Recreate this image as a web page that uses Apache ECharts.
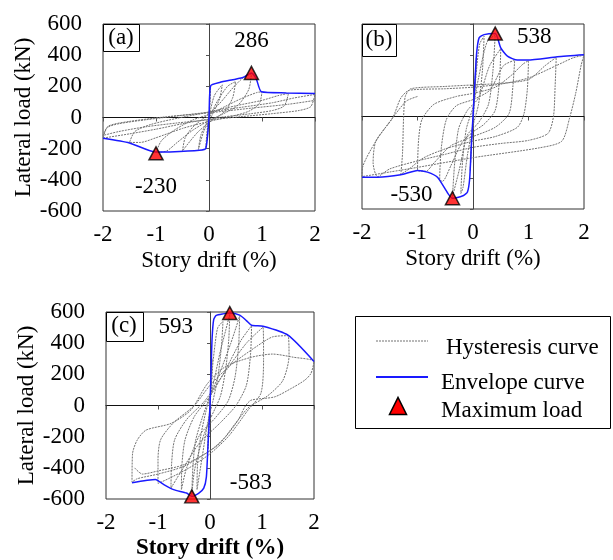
<!DOCTYPE html>
<html><head><meta charset="utf-8">
<script src="https://cdn.jsdelivr.net/npm/echarts@6/dist/echarts.min.js"></script>
<style>html,body{margin:0;padding:0;background:#fff}#chart{width:613px;height:560px}</style>
</head><body><div id="chart"></div>
<script>
// ---------- data ----------
const driftTicks = [-2, -1, 0, 1, 2];
const loadTicks = [-600, -400, -200, 0, 200, 400, 600];
const panelNames = ['(a)', '(b)', '(c)'];
const xAxisTitle = 'Story drift (%)';
const yAxisTitle = 'Lateral load (kN)';
const legendNames = ['Hysteresis curve', 'Envelope curve', 'Maximum load'];

const hysteresisA = [
  [0,0],[0.02,150],[0.03,200],[0.02,100],[0,0],[-0.03,-120],[-0.06,-195],[-0.04,-100],[0,0],
  [0.1,140],[0.25,210],[0.2,120],[0.05,10],[-0.1,-90],[-0.2,-205],[-0.15,-110],[0,-5],[0.15,100],
  [0.35,200],[0.5,230],[0.45,130],[0.3,40],[0.05,-20],[-0.2,-90],[-0.4,-170],[-0.5,-215],[-0.45,-130],[-0.3,-60],[-0.05,10],[0.2,90],[0.45,190],[0.65,257],
  [0.8,280],[0.75,180],[0.55,80],[0.25,20],[0,-20],[-0.3,-80],[-0.6,-160],[-0.8,-215],[-1.0,-225],[-0.9,-150],[-0.65,-80],[-0.3,-15],[0,20],[0.3,70],[0.6,120],[0.9,160],[1.0,165],
  [0.95,90],[0.75,40],[0.4,5],[0,-25],[-0.5,-70],[-1.0,-130],[-1.3,-160],[-1.5,-160],[-1.4,-90],[-1.1,-45],[-0.6,-5],[0,35],[0.5,75],[1.0,110],[1.3,140],[1.5,155],
  [1.42,75],[1.2,45],[0.8,25],[0.3,5],[0,-10],[-0.5,-40],[-1.0,-75],[-1.5,-105],[-2.0,-132],[-1.92,-65],[-1.7,-40],[-1.2,-15],[-0.6,10],[0,35],[0.6,65],[1.2,95],[1.6,125],[2.0,148],
  [1.92,70],[1.7,45],[1.2,25],[0.6,5],[0,-15],[-0.6,-35],[-1.2,-60],[-1.7,-90],[-2.0,-115],[-1.9,-55],[-1.5,-25],[-0.8,5],[0,30],[0.8,60],[1.5,85],[2.0,110]
];
const envelopeA = [
  [-2.0,-133],[-1.5,-163],[-1.0,-222],[-0.74,-221],[-0.18,-210],[-0.06,-199],[0,0],
  [0.03,203],[0.2,225],[0.64,257],[0.8,286],[0.89,250],[0.99,165],[1.46,158],[2.0,154]
];
const peaksA = [[0.8,286],[-1.0,-230]];

const hysteresisB = [
  [0,0],[0.03,200],[0.06,380],[0.04,200],[0.01,0],[-0.02,-150],[-0.05,-350],[-0.03,-180],[0,0],
  [0.05,250],[0.12,470],[0.2,520],[0.17,300],[0.1,80],[0,-60],[-0.1,-250],[-0.18,-460],[-0.22,-500],[-0.19,-300],[-0.12,-80],[0,60],[0.1,250],
  [0.25,480],[0.4,530],[0.36,300],[0.28,80],[0.1,-40],[-0.1,-120],[-0.25,-350],[-0.37,-520],[-0.33,-300],[-0.26,-80],[-0.1,40],[0.1,120],[0.3,330],
  [0.5,440],[0.48,250],[0.4,40],[0.2,-50],[0,-100],[-0.2,-170],[-0.4,-320],[-0.55,-420],[-0.6,-410],[-0.57,-200],[-0.48,-20],[-0.3,70],[0,110],[0.3,170],[0.55,330],
  [0.75,365],[0.72,200],[0.65,20],[0.4,-70],[0,-130],[-0.4,-190],[-0.7,-300],[-0.85,-355],[-1.0,-348],[-0.98,-150],[-0.92,-20],[-0.7,80],[-0.3,130],[0,150],[0.4,190],[0.7,270],[0.9,340],
  [1.0,362],[0.98,180],[0.92,20],[0.8,-70],[0.4,-130],[0,-160],[-0.5,-210],[-0.9,-270],[-1.15,-340],[-1.3,-375],[-1.27,-240],[-1.25,0],[-1.22,130],[-1.12,180],[-0.5,195],[0,205],[0.5,215],[1.0,240],[1.3,330],
  [1.5,384],[1.48,200],[1.45,0],[1.35,-110],[1.0,-155],[0.5,-175],[0,-200],[-0.5,-245],[-1.0,-288],[-1.5,-340],[-1.72,-390],[-1.8,-300],[-1.75,-160],[-1.45,-10],[-1.3,120],[-1.15,170],[-0.5,180],[0,190],[0.5,210],[1.0,250],[1.5,330],[1.8,380],
  [2.0,398],[1.95,335],[1.85,150],[1.74,-10],[1.6,-160],[1.2,-203],[0,-267],[-1.0,-330],[-1.5,-360],[-2.0,-390],[-1.99,-330],[-1.75,-160],[-1.45,-10],[-1.2,100],[-1.0,130]
];
const envelopeB = [
  [-2.0,-394],[-1.72,-394],[-1.3,-378],[-1.0,-350],[-0.82,-361],[-0.64,-394],[-0.45,-500],[-0.37,-530],[-0.17,-512],[-0.1,-490],[-0.06,-404],[-0.03,-189],[0,0],
  [0.03,198],[0.066,413],[0.11,510],[0.2,531],[0.4,538],[0.5,445],[0.62,391],[0.8,366],[0.98,366],[1.52,387],[2.0,400]
];
const peaksB = [[0.4,538],[-0.37,-530]];

const hysteresisC = [
  [0,0],[0.02,180],[0.04,300],[0.03,150],[0,0],[-0.02,-150],[-0.04,-280],[-0.03,-130],[0,0],
  [0.05,250],[0.1,400],[0.15,500],[0.25,540],[0.22,380],[0.15,180],[0.05,20],[-0.05,-120],[-0.15,-330],[-0.25,-540],[-0.24,-380],[-0.18,-200],[-0.08,-40],[0.05,120],[0.2,350],[0.3,480],
  [0.38,585],[0.36,420],[0.3,230],[0.2,60],[0,-90],[-0.15,-220],[-0.3,-420],[-0.35,-575],[-0.33,-400],[-0.28,-230],[-0.15,-80],[0,60],[0.2,220],[0.4,400],[0.5,500],
  [0.57,575],[0.55,380],[0.48,180],[0.35,30],[0.1,-80],[-0.2,-190],[-0.45,-400],[-0.55,-540],[-0.54,-380],[-0.48,-220],[-0.3,-70],[0,60],[0.3,230],[0.6,420],
  [0.8,512],[0.78,330],[0.7,130],[0.5,0],[0.2,-110],[-0.2,-240],[-0.55,-420],[-0.75,-530],[-0.74,-380],[-0.68,-220],[-0.45,-90],[-0.1,30],[0.3,220],[0.7,400],
  [1.02,502],[1.03,300],[0.98,80],[0.73,-30],[0.35,-200],[0,-310],[-0.4,-400],[-0.8,-470],[-1.0,-500],[-1.0,-350],[-0.95,-220],[-0.7,-110],[-0.3,0],[0,130],[0.4,260],[0.9,380],[1.2,440],
  [1.5,448],[1.52,320],[1.4,160],[1.1,60],[0.75,-10],[0.5,-110],[0.2,-240],[0,-290],[-0.5,-390],[-1.0,-440],[-1.4,-470],[-1.5,-492],[-1.49,-310],[-1.4,-222],[-1.23,-158],[-0.75,-115],[-0.37,-30],[-0.05,140],[0.3,250],[0.8,310],[1.2,330],[1.6,310],
  [2.0,282],[1.94,205],[1.82,162],[1.56,109],[1.24,55],[0.79,34],[0.67,-9],[0.54,-94],[0.3,-200],[0,-290],[-0.5,-380],[-1.0,-420],[-1.3,-440],[-1.45,-400]
];
const envelopeC = [
  [-1.5,-495],[-1.05,-475],[-0.9,-505],[-0.7,-540],[-0.45,-562],[-0.35,-583],[-0.22,-564],[-0.12,-530],[-0.07,-460],[-0.04,-265],[0,0],
  [0.02,220],[0.04,430],[0.07,550],[0.12,578],[0.25,588],[0.38,593],[0.57,580],[0.7,545],[0.8,515],[1.02,508],[1.5,451],[2.0,282]
];
const peaksC = [[0.38,593],[-0.35,-583]];

// ---------- styling / layout ----------
const FONT = '"Liberation Serif", "Times New Roman", serif';
const FS = 23;
const grids = [
  {left: 103, top: 24, width: 212, height: 187},
  {left: 362, top: 24, width: 222, height: 185},
  {left: 106, top: 312, width: 208, height: 187}
];
const showYLabels = [true, false, true];
const boldXName = [false, false, true];
const peakLabelOffsets = [
  [[0,-32],[0,34]],
  [[39,3],[-41,-3]],
  [[-54,14],[59,-13]]
];
const hystSets = [hysteresisA, hysteresisB, hysteresisC];
const envSets = [envelopeA, envelopeB, envelopeC];
const peakSets = [peaksA, peaksB, peaksC];

const xMin = driftTicks[0], xMax = driftTicks[driftTicks.length-1], xInt = driftTicks[1]-driftTicks[0];
const yMin = loadTicks[0], yMax = loadTicks[loadTicks.length-1], yInt = loadTicks[1]-loadTicks[0];

const option = {
  animation: false,
  backgroundColor: '#fff',
  grid: grids.map(g => Object.assign({show: true, borderColor: '#333', borderWidth: 1, backgroundColor: 'transparent', containLabel: false, outerBoundsMode: 'none'}, g)),
  xAxis: [],
  yAxis: [],
  series: [],
  graphic: []
};

grids.forEach((g, i) => {
  option.xAxis.push({
    type: 'value', gridIndex: i, min: xMin, max: xMax, interval: xInt, position: 'bottom',
    axisLine: {show: false, onZero: false}, axisTick: {show: false}, splitLine: {show: false},
    axisLabel: {show: true, fontSize: FS, fontFamily: FONT, color: '#000', margin: 12, showMinLabel: true, showMaxLabel: true},
    name: xAxisTitle, nameLocation: 'middle', nameGap: 38,
    nameTextStyle: {fontSize: FS, fontFamily: FONT, color: '#000', fontWeight: boldXName[i] ? 'bold' : 'normal'}
  });
  option.xAxis.push({
    type: 'value', gridIndex: i, min: xMin, max: xMax, interval: xInt, position: 'bottom',
    axisLine: {show: true, onZero: true, lineStyle: {color: '#111', width: 1}},
    axisTick: {show: true, length: 4, lineStyle: {color: '#555'}}, splitLine: {show: false},
    axisLabel: {show: false}
  });
  option.yAxis.push({
    type: 'value', gridIndex: i, min: yMin, max: yMax, interval: yInt, position: 'left',
    axisLine: {show: false, onZero: false}, axisTick: {show: false}, splitLine: {show: false},
    axisLabel: {show: showYLabels[i], fontSize: FS, fontFamily: FONT, color: '#000', margin: 21, showMinLabel: true, showMaxLabel: true},
    name: showYLabels[i] ? yAxisTitle : '', nameLocation: 'middle', nameGap: 68, nameRotate: 90,
    nameTextStyle: {fontSize: FS, fontFamily: FONT, color: '#000'}
  });
  option.yAxis.push({
    type: 'value', gridIndex: i, min: yMin, max: yMax, interval: yInt, position: 'left',
    axisLine: {show: true, onZero: true, lineStyle: {color: '#444', width: 1}},
    axisTick: {show: true, length: 3, lineStyle: {color: '#555'}}, splitLine: {show: false},
    axisLabel: {show: false}
  });

  option.series.push({
    name: legendNames[0], type: 'line', xAxisIndex: 2*i, yAxisIndex: 2*i,
    data: hystSets[i], symbol: 'none', smooth: 0.25, silent: true, z: 2,
    lineStyle: {color: '#737373', width: 1, type: [2, 1]}
  });
  option.series.push({
    name: legendNames[1], type: 'line', xAxisIndex: 2*i, yAxisIndex: 2*i,
    data: envSets[i], symbol: 'none', smooth: 0.2, silent: true, z: 3,
    lineStyle: {color: '#1a1aff', width: 1.5}
  });
  option.series.push({
    name: legendNames[2], type: 'scatter', xAxisIndex: 2*i, yAxisIndex: 2*i,
    clip: false, symbol: 'triangle', symbolSize: [14, 13], z: 5, silent: true,
    itemStyle: {color: '#ff0000', borderColor: '#000', borderWidth: 1.5},
    data: peakSets[i].map((p, k) => ({
      value: p,
      label: {show: true, position: 'inside', offset: peakLabelOffsets[i][k],
        formatter: String(p[1]), fontSize: FS, fontFamily: FONT, color: '#000',
        textBorderWidth: 0, textShadowBlur: 0, opacity: 1}
    }))
  });
});

const tagBoxes = [
  {x: 103.5, y: 24.5, w: 36, h: 27, tx: 121, ty: 38},
  {x: 362.5, y: 24.5, w: 34, h: 32, tx: 379, ty: 40},
  {x: 106.5, y: 312.5, w: 37, h: 29, tx: 124, ty: 326}
];
tagBoxes.forEach((b, i) => {
  option.graphic.push({type: 'rect', z: 20, shape: {x: b.x, y: b.y, width: b.w, height: b.h},
    style: {fill: '#fff', stroke: '#000', lineWidth: 1}});
  option.graphic.push({type: 'text', z: 21, x: b.tx, y: b.ty,
    style: {text: panelNames[i], font: FS + 'px ' + FONT, fill: '#000', align: 'center', verticalAlign: 'middle'}});
});

option.graphic.push({type: 'rect', z: 20, shape: {x: 355.5, y: 316.5, width: 255, height: 112},
  style: {fill: '#fff', stroke: '#000', lineWidth: 1}});
option.graphic.push({type: 'line', z: 21, shape: {x1: 376, y1: 341, x2: 428, y2: 341},
  style: {stroke: '#737373', lineWidth: 1.2, lineDash: [2, 1]}});
option.graphic.push({type: 'text', z: 21, x: 446, y: 348,
  style: {text: legendNames[0], font: FS + 'px ' + FONT, fill: '#000', align: 'left', verticalAlign: 'middle'}});
option.graphic.push({type: 'line', z: 21, shape: {x1: 376, y1: 377, x2: 428, y2: 377},
  style: {stroke: '#1a1aff', lineWidth: 2}});
option.graphic.push({type: 'text', z: 21, x: 441, y: 383,
  style: {text: legendNames[1], font: FS + 'px ' + FONT, fill: '#000', align: 'left', verticalAlign: 'middle'}});
option.graphic.push({type: 'polygon', z: 21, shape: {points: [[389.5, 414.5], [406.5, 414.5], [398, 397.5]]},
  style: {fill: '#ff0000', stroke: '#000', lineWidth: 1.5}});
option.graphic.push({type: 'text', z: 21, x: 441, y: 411,
  style: {text: legendNames[2], font: FS + 'px ' + FONT, fill: '#000', align: 'left', verticalAlign: 'middle'}});

const chart = echarts.init(document.getElementById('chart'), null, {renderer: 'canvas'});
chart.setOption(option);
</script>
</body></html>
